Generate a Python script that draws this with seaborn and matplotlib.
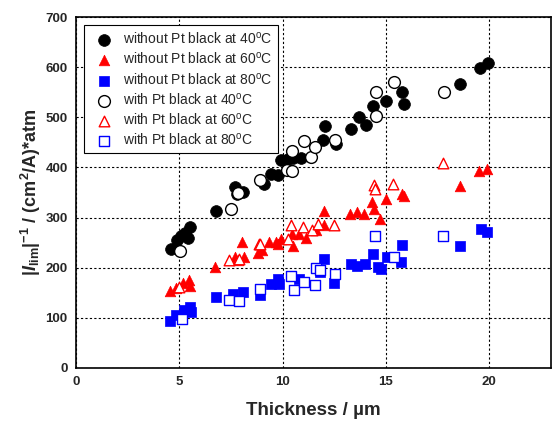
import matplotlib
matplotlib.use("Agg")
import matplotlib.pyplot as plt
import seaborn as sns
import numpy as np
from matplotlib.ticker import MultipleLocator

# ---- data ----
x_wo40 = [4.6, 4.9, 5.1, 5.3, 5.5, 5.4, 6.8, 7.7, 7.8, 8.1, 9.1, 9.45, 9.8, 9.95, 10.25,
          10.5, 10.9, 11.95, 12.05, 12.6, 13.3, 13.7, 14.05, 14.4, 15.0, 15.8, 15.9,
          18.6, 19.55, 19.95]
y_wo40 = [238, 255, 263, 270, 282, 260, 313, 361, 348, 351, 367, 387, 384, 414, 417,
          418, 419, 455, 482, 447, 477, 501, 485, 523, 533, 550, 526,
          566, 598, 608]

x_wo60 = [4.55, 4.85, 5.2, 5.45, 5.5, 6.75, 7.7, 7.85, 8.15, 8.05, 8.8, 9.0, 9.35, 9.7,
          9.8, 9.95, 10.5, 10.45, 10.8, 11.15, 11.6, 12.0, 12.0, 13.25, 13.6, 13.95,
          14.35, 14.45, 14.7, 15.0, 15.8, 15.9, 18.6, 19.5, 19.9]
y_wo60 = [153, 159, 170, 175, 163, 202, 222, 215, 222, 251, 230, 235, 251, 251,
          248, 258, 243, 268, 268, 260, 275, 285, 314, 308, 312, 308,
          331, 318, 298, 338, 347, 343, 363, 392, 397]

x_wo80 = [4.55, 4.85, 5.25, 5.5, 5.55, 6.8, 7.6, 8.1, 8.9, 9.45, 9.8, 9.85, 10.8, 11.8,
          12.0, 12.5, 13.3, 13.6, 14.0, 14.4, 14.6, 14.75, 15.05, 15.75, 15.8,
          18.6, 19.6, 19.9]
y_wo80 = [94, 105, 115, 122, 112, 142, 148, 152, 145, 168, 178, 168, 178, 192,
          218, 170, 208, 203, 208, 227, 202, 198, 221, 212, 245,
          243, 278, 271]

x_w40 = [5.05, 7.5, 7.85, 8.9, 10.2, 10.45, 10.45, 11.05, 11.4, 11.55, 12.55, 14.55,
         14.55, 15.4, 17.8]
y_w40 = [233, 318, 350, 375, 395, 392, 432, 452, 420, 440, 455, 503,
         550, 570, 550]

x_w60 = [5.0, 7.4, 7.9, 8.85, 8.9, 10.25, 10.4, 11.0, 11.45, 11.7, 12.5, 14.45, 14.5,
         15.35, 17.75]
y_w60 = [162, 215, 218, 248, 248, 258, 285, 282, 275, 288, 285, 364, 357,
         366, 409]

x_w80 = [5.15, 7.4, 7.9, 8.9, 10.4, 10.55, 11.05, 11.55, 11.6, 11.8, 12.55, 14.5,
         15.4, 17.75]
y_w80 = [97, 135, 134, 157, 183, 155, 172, 166, 200, 196, 187, 263,
         221, 263]

labels = ["without Pt black at 40$^{\\mathregular{o}}$C",
          "without Pt black at 60$^{\\mathregular{o}}$C",
          "without Pt black at 80$^{\\mathregular{o}}$C",
          "with Pt black at 40$^{\\mathregular{o}}$C",
          "with Pt black at 60$^{\\mathregular{o}}$C",
          "with Pt black at 80$^{\\mathregular{o}}$C"]

x_ticks = [0, 5, 10, 15, 20]
y_ticks = [0, 100, 200, 300, 400, 500, 600, 700]

# ---- style ----
sns.set_style("white")
plt.rcParams["font.family"] = ["Liberation Sans", "DejaVu Sans"]
plt.rcParams["mathtext.fontset"] = "custom"
plt.rcParams["mathtext.rm"] = "Liberation Sans:bold"
plt.rcParams["mathtext.bf"] = "Liberation Sans:bold"
plt.rcParams["mathtext.it"] = "Liberation Sans:bold:italic"

fig = plt.figure(figsize=(5.53, 4.21), dpi=100)
ax = fig.add_axes([76/553, 1-368/421, 475/553, (368-17)/421])

series = [
    (x_wo40, y_wo40, "o", "black", True, 72),
    (x_wo60, y_wo60, "^", "red", True, 58),
    (x_wo80, y_wo80, "s", "blue", True, 50),
    (x_w40, y_w40, "o", "black", False, 72),
    (x_w60, y_w60, "^", "red", False, 58),
    (x_w80, y_w80, "s", "blue", False, 50),
]
for (xs, ys, m, c, filled, s), lab in zip(series, labels):
    if filled:
        sns.scatterplot(x=xs, y=ys, marker=m, color=c, edgecolor=c, linewidth=0.5,
                        s=s, ax=ax, label=lab, zorder=3)
    else:
        sns.scatterplot(x=xs, y=ys, marker=m, color=c, facecolor="white", edgecolor=c,
                        linewidth=1.0, s=s, ax=ax, label=lab, zorder=3)

ax.set_xlim(0, 23)
ax.set_ylim(0, 700)
ax.set_xticks(x_ticks)
ax.set_yticks(y_ticks)
ax.xaxis.set_minor_locator(MultipleLocator(2.5))
ax.yaxis.set_minor_locator(MultipleLocator(50))
ax.tick_params(which="major", direction="in", length=5, width=1.2, labelsize=9.5, pad=6)
ax.tick_params(which="minor", direction="in", length=3, width=1.0)
for lab in ax.get_xticklabels() + ax.get_yticklabels():
    lab.set_fontweight("bold")
ax.grid(True, which="major", color="black", linestyle=(0, (2, 2)), linewidth=0.8)
for sp in ax.spines.values():
    sp.set_visible(True)
    sp.set_color("black")
    sp.set_linewidth(1.2)

ax.set_xlabel("Thickness / \u00b5m", fontsize=13.5, fontweight="bold", labelpad=10)
ax.set_ylabel("$|I_{\\rm lim}|^{-1}$ / (cm$^{2}$/A)*atm", fontsize=13,
              fontweight="bold", labelpad=2)

leg = ax.legend(loc="upper left", fontsize=10, frameon=True, fancybox=False,
                edgecolor="black", framealpha=1, borderaxespad=0.6,
                labelspacing=0.3, handletextpad=0.4, borderpad=0.4)
leg.get_frame().set_linewidth(0.8)

fig.savefig("out.png", dpi=100)
